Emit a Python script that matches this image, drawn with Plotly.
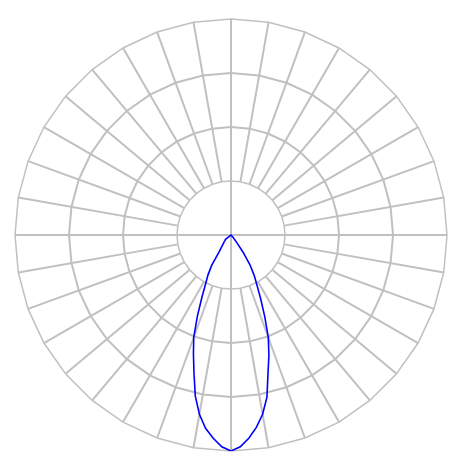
import plotly.graph_objects as go

# photometric curve, angle 0 = nadir (down), 2.5 deg steps
# right half: 0 .. 180, left half: 2.5 .. 177.5 (mirrored onto 357.5 .. 182.5)
step = 2.5
right_vals = [216, 212, 204, 194, 182, 166, 143, 126, 109, 88,
              70, 56, 46, 35, 21, 9, 3] + [0] * 56
left_vals = [212, 204, 195, 182, 165, 143, 125, 109, 88, 69,
             55, 46, 36, 21, 16, 13, 11, 10, 8, 7,
             7] + [0] * 50

angles = [i * step for i in range(len(right_vals) + len(left_vals))]
intensity = right_vals + left_vals[::-1]
theta = angles + [360]
r = intensity + [intensity[0]]

rmax = 216
ring_ticks = [72, 144]
grid_angles = [str(a) for a in range(0, 360, 10)]   # 36 spokes

grid_col = "#c0c0c0"
# body has an 8px margin in the html page, so shift the domain a bit
dom_x = [0.0151, 0.9441]
dom_y = [0.0473, 0.9763]

fig = go.Figure()

# invisible trace so the grid polar (category axis -> polygon rings) is drawn
fig.add_trace(go.Scatterpolar(r=[0] * len(grid_angles), theta=grid_angles, mode="markers",
                              marker=dict(size=1, opacity=0),
                              subplot="polar", hoverinfo="skip", showlegend=False))

fig.add_trace(go.Scatterpolar(r=r, theta=theta, mode="lines",
                              line=dict(color="#0000ff", width=1.6),
                              subplot="polar2", showlegend=False))

fig.update_layout(
    width=465, height=465,
    margin=dict(l=0, r=0, t=0, b=0),
    paper_bgcolor="white",
    showlegend=False,
    polar=dict(
        domain=dict(x=dom_x, y=dom_y),
        hole=0.25,
        gridshape="linear",
        bgcolor="rgba(0,0,0,0)",
        radialaxis=dict(range=[0, rmax], tickvals=ring_ticks, showticklabels=False,
                        ticks="", showline=False, gridcolor=grid_col, gridwidth=1.5),
        angularaxis=dict(type="category", categoryorder="array", categoryarray=grid_angles,
                         rotation=270, direction="counterclockwise",
                         showticklabels=False, ticks="", showline=True,
                         linecolor=grid_col, linewidth=1.5,
                         gridcolor=grid_col, gridwidth=1.5),
    ),
    polar2=dict(
        domain=dict(x=dom_x, y=dom_y),
        bgcolor="rgba(0,0,0,0)",
        radialaxis=dict(range=[0, rmax], showgrid=False, showticklabels=False,
                        ticks="", showline=False),
        angularaxis=dict(rotation=270, direction="counterclockwise", dtick=90,
                         showticklabels=False, ticks="", showline=False,
                         gridcolor=grid_col, gridwidth=1.5),
    ),
)

fig.write_html("out.html")
